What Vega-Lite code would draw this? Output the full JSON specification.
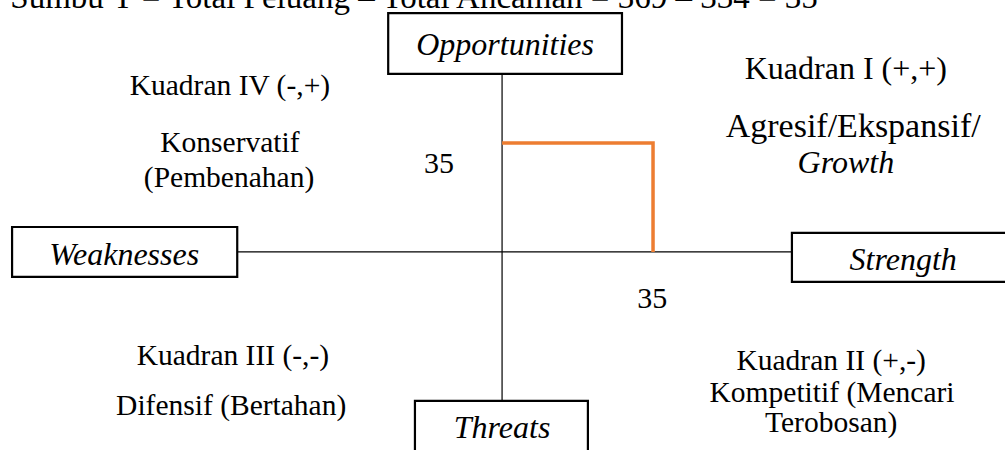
{
  "$schema": "https://vega.github.io/schema/vega-lite/v6.json",
  "autosize": "none",
  "padding": 0,
  "width": 1005,
  "height": 450,
  "background": "white",
  "config": {"view": {"stroke": null}},
  "datasets": {
    "axes": [
      {"x": -61.4, "x2": 67.2, "y": 0, "y2": 0},
      {"x": 0, "x2": 0, "y": 57.2, "y2": -47.8}
    ],
    "position": [
      {"S": 0, "O": 35, "step": 1},
      {"S": 35, "O": 35, "step": 2},
      {"S": 35, "O": 0, "step": 3}
    ],
    "boxes": [
      {"name": "Opportunities", "x": -26.4, "x2": 27.8, "y": 76.7, "y2": 57.2},
      {"name": "Weaknesses", "x": -113.6, "x2": -61.4, "y": 8.0, "y2": -8.0},
      {"name": "Strength", "x": 67.2, "x2": 118, "y": 6.1, "y2": -9.6},
      {"name": "Threats", "x": -20.2, "x2": 19.9, "y": -47.8, "y2": -66}
    ],
    "italic": [
      {"label": "Opportunities", "x": 0.7, "y": 63.3},
      {"label": "Weaknesses", "x": -87.6, "y": -4.2},
      {"label": "Strength", "x": 93.0, "y": -5.8},
      {"label": "Threats", "x": 0, "y": -59.7},
      {"label": "Growth", "x": 79.7, "y": 25.4}
    ],
    "normal": [
      {"group": "other", "label": "Kuadran IV (-,+)", "x": -63.1, "y": 50.4},
      {"group": "other", "label": "Konservatif", "x": -63.1, "y": 32.1},
      {"group": "other", "label": "(Pembenahan)", "x": -63.3, "y": 20.9},
      {"group": "value", "label": "35", "x": -14.6, "y": 25.4},
      {"group": "q1a", "label": "Kuadran I (+,+)", "x": 79.7, "y": 55.6},
      {"group": "q1b", "label": "Agresif/Ekspansif/", "x": 81.4, "y": 36.9},
      {"group": "value", "label": "35", "x": 34.8, "y": -18.0},
      {"group": "other", "label": "Kuadran III (-,-)", "x": -62.4, "y": -36.3},
      {"group": "other", "label": "Difensif (Bertahan)", "x": -62.8, "y": -52.3},
      {"group": "other", "label": "Kuadran II (+,-)", "x": 76.3, "y": -37.9},
      {"group": "other", "label": "Kompetitif (Mencari", "x": 76.5, "y": -48.2},
      {"group": "other", "label": "Terobosan)", "x": 76.3, "y": -57.8}
    ],
    "title": [
      {"label": "Sumbu Y = Total Peluang – Total Ancaman = 369 – 334 = 35", "x": -114.0, "y": 78.3}
    ]
  },
  "layer": [
    {
      "data": {"name": "axes"},
      "mark": {"type": "rule", "color": "black", "strokeWidth": 1.2},
      "encoding": {
        "x": {"field": "x", "type": "quantitative", "axis": null, "scale": {"domain": [-116.4, 116.6], "nice": false, "zero": false}},
        "x2": {"field": "x2"},
        "y": {"field": "y", "type": "quantitative", "axis": null, "scale": {"domain": [-63.6, 80.9], "nice": false, "zero": false}},
        "y2": {"field": "y2"}
      }
    },
    {
      "data": {"name": "position"},
      "mark": {"type": "line", "color": "#ED7D31", "strokeWidth": 3.5, "strokeJoin": "miter"},
      "encoding": {
        "x": {"field": "S", "type": "quantitative"},
        "y": {"field": "O", "type": "quantitative"},
        "order": {"field": "step", "type": "quantitative"}
      }
    },
    {
      "data": {"name": "boxes"},
      "mark": {"type": "rect", "fill": "white", "stroke": "black", "strokeWidth": 2.2},
      "encoding": {
        "x": {"field": "x", "type": "quantitative"},
        "x2": {"field": "x2"},
        "y": {"field": "y", "type": "quantitative"},
        "y2": {"field": "y2"}
      }
    },
    {
      "data": {"name": "italic"},
      "mark": {"type": "text", "font": "Times New Roman", "fontSize": 32, "fontStyle": "italic", "align": "center", "baseline": "alphabetic", "color": "black"},
      "encoding": {
        "x": {"field": "x", "type": "quantitative"},
        "y": {"field": "y", "type": "quantitative"},
        "text": {"field": "label"}
      }
    },
    {
      "data": {"name": "normal"},
      "transform": [{"filter": "datum.group === 'other'"}],
      "mark": {"type": "text", "font": "Times New Roman", "fontSize": 29.5, "align": "center", "baseline": "alphabetic", "color": "black"},
      "encoding": {
        "x": {"field": "x", "type": "quantitative"},
        "y": {"field": "y", "type": "quantitative"},
        "text": {"field": "label"}
      }
    },
    {
      "data": {"name": "normal"},
      "transform": [{"filter": "datum.group === 'q1a'"}],
      "mark": {"type": "text", "font": "Times New Roman", "fontSize": 32, "align": "center", "baseline": "alphabetic", "color": "black"},
      "encoding": {
        "x": {"field": "x", "type": "quantitative"},
        "y": {"field": "y", "type": "quantitative"},
        "text": {"field": "label"}
      }
    },
    {
      "data": {"name": "normal"},
      "transform": [{"filter": "datum.group === 'q1b'"}],
      "mark": {"type": "text", "font": "Times New Roman", "fontSize": 34, "align": "center", "baseline": "alphabetic", "color": "black"},
      "encoding": {
        "x": {"field": "x", "type": "quantitative"},
        "y": {"field": "y", "type": "quantitative"},
        "text": {"field": "label"}
      }
    },
    {
      "data": {"name": "normal"},
      "transform": [{"filter": "datum.group === 'value'"}],
      "mark": {"type": "text", "font": "Times New Roman", "fontSize": 30, "align": "center", "baseline": "alphabetic", "color": "black"},
      "encoding": {
        "x": {"field": "x", "type": "quantitative"},
        "y": {"field": "y", "type": "quantitative"},
        "text": {"field": "label"}
      }
    },
    {
      "data": {"name": "title"},
      "mark": {"type": "text", "font": "Times New Roman", "fontSize": 33, "align": "left", "baseline": "alphabetic", "color": "black"},
      "encoding": {
        "x": {"field": "x", "type": "quantitative"},
        "y": {"field": "y", "type": "quantitative"},
        "text": {"field": "label"}
      }
    }
  ]
}
